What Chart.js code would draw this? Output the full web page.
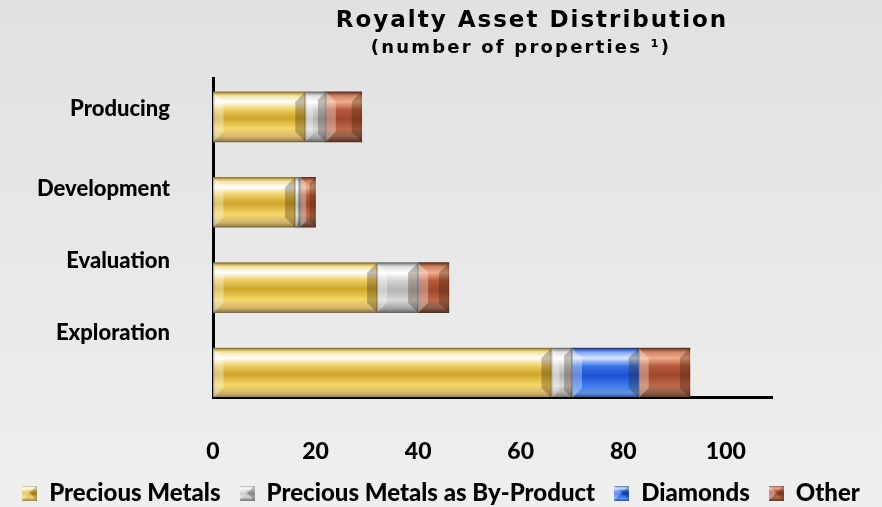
<!DOCTYPE html>
<html>
<head>
<meta charset="utf-8">
<script src="https://cdn.jsdelivr.net/npm/chart.js@4.4.1/dist/chart.umd.min.js"></script>
<style>
  html, body { margin: 0; padding: 0; }
  body { width: 882px; height: 507px; overflow: hidden; background: linear-gradient(#e1e1e1, #efefef); }
  #wrap { position: relative; width: 882px; height: 507px; }
</style>
</head>
<body>
<div id="wrap"><canvas id="royaltyView"></canvas></div>
<script>
// dados do gráfico
const stages = ["Producing", "Development", "Evaluation", "Exploration"];
const preciousMetals = [18, 16, 32, 66];
const byProduct = [4, 1, 8, 4];
const diamonds = [0, 0, 0, 13];
const other = [7, 3, 6, 10];
const seriesNames = ["Precious Metals", "Precious Metals as By-Product", "Diamonds", "Other"];
const xTickValues = [0, 20, 40, 60, 80, 100];

const titleText = "Royalty Asset Distribution";
const subtitleText = "(number of properties \u00b9)";

const BAR_H = 50;
const yFont = { family: "Lato", weight: "900", size: 22 };
const xFont = { family: "Lato", weight: "900", size: 23 };
const legendFont = { family: "Lato", weight: "900", size: 24 };

// paletas com brilho (cima -> baixo)
const goldStops = [[0, "#a08535"], [0.08, "#f3e3a0"], [0.2, "#ffffff"], [0.34, "#f0d26e"], [0.52, "#cfa52a"], [0.74, "#f6d768"], [0.9, "#d4b66e"], [1, "#8f7648"]];
const silverStops = [[0, "#7d7d7d"], [0.08, "#dedede"], [0.2, "#ffffff"], [0.36, "#d4d4d4"], [0.55, "#b4b4b4"], [0.75, "#d9d9d9"], [0.9, "#a9a9a9"], [1, "#6e6e6e"]];
const blueStops = [[0, "#1a3a96"], [0.08, "#7ea4f2"], [0.2, "#dce8ff"], [0.36, "#3b74e6"], [0.55, "#1c50d2"], [0.75, "#3d7cee"], [0.9, "#6490dc"], [1, "#22408a"]];
const copperStops = [[0, "#6a3120"], [0.08, "#cf8466"], [0.2, "#efae8e"], [0.36, "#b55a3b"], [0.55, "#a1472e"], [0.75, "#bd6a4a"], [0.9, "#8c5c4a"], [1, "#5a301f"]];

// gradiente vertical de cada barra, calculado pela escala y
function barGradient(stops) {
    return (context) => {
        const chart = context.chart;
        const yScale = chart.scales.y;
        if (!yScale || context.type !== "data") return stops[4][1];
        const yc = yScale.getPixelForValue(context.dataIndex);
        if (!isFinite(yc)) return stops[4][1];
        const g = chart.ctx.createLinearGradient(0, yc - BAR_H / 2, 0, yc + BAR_H / 2);
        stops.forEach(([o, c]) => g.addColorStop(o, c));
        return g;
    };
}

// ícone da legenda (quadrado chanfrado)
function legendIcon(stops) {
    const s = 15;
    const cv = document.createElement("canvas");
    cv.width = s; cv.height = s;
    const c = cv.getContext("2d");
    const g = c.createLinearGradient(0, 0, 0, s);
    stops.forEach(([o, col]) => g.addColorStop(o, col));
    c.fillStyle = g;
    c.fillRect(0, 0, s, s);
    c.fillStyle = "rgba(255,255,255,0.35)";
    c.beginPath(); c.moveTo(0, 0); c.lineTo(s / 2, s / 2); c.lineTo(0, s); c.fill();
    c.fillStyle = "rgba(0,0,0,0.25)";
    c.beginPath(); c.moveTo(s, 0); c.lineTo(s / 2, s / 2); c.lineTo(s, s); c.fill();
    return cv;
}
const paletteList = [goldStops, silverStops, blueStops, copperStops];
const legendIcons = paletteList.map(legendIcon);

function toPoints(values) {
    return values.map((v, i) => ({ x: v, y: i }));
}

// chanfro nas pontas das barras
function quad(ctx, pts, color) {
    ctx.fillStyle = color;
    ctx.beginPath();
    ctx.moveTo(pts[0][0], pts[0][1]);
    for (let i = 1; i < pts.length; i++) ctx.lineTo(pts[i][0], pts[i][1]);
    ctx.closePath();
    ctx.fill();
}

const bevelPlugin = {
    id: "bevel",
    afterDatasetsDraw(chart) {
        const ctx = chart.ctx;
        ctx.save();
        chart.data.datasets.forEach((ds, di) => {
            const meta = chart.getDatasetMeta(di);
            meta.data.forEach((bar) => {
                const { x, y, base, height } = bar.getProps(["x", "y", "base", "height"], true);
                const left = Math.min(base, x), right = Math.max(base, x);
                const w = right - left;
                if (!(w >= 1)) return;
                const top = y - height / 2, bottom = y + height / 2;
                const b = Math.min(10, w / 2.6);
                quad(ctx, [[left, top], [left + b, top + b], [left + b, bottom - b], [left, bottom]], "rgba(255,255,255,0.32)");
                quad(ctx, [[right, top], [right - b, top + b], [right - b, bottom - b], [right, bottom]], "rgba(40,20,0,0.28)");
                ctx.strokeStyle = "rgba(60,40,20,0.25)";
                ctx.lineWidth = 1;
                ctx.strokeRect(left + 0.5, top + 0.5, w - 1, height - 1);
            });
        });
        ctx.restore();
    },
};

// título e subtítulo
const titlePlugin = {
    id: "titles",
    afterDraw(chart) {
        const ctx = chart.ctx;
        ctx.save();
        ctx.fillStyle = "#000";
        ctx.textAlign = "center";
        ctx.textBaseline = "middle";
        ctx.letterSpacing = "2px";
        ctx.font = "bold 23px 'DejaVu Sans'";
        ctx.fillText(titleText, 532, 21);
        ctx.letterSpacing = "2.2px";
        ctx.font = "bold 18px 'DejaVu Sans'";
        ctx.fillText(subtitleText, 521, 48);
        ctx.restore();
    },
};

// posições dos rótulos das categorias (deslocados como no original)
const labelSlots = [-0.09, 0.84, 1.69, 2.53];

const ctxRoyalty = document.getElementById("royaltyView").getContext("2d");

new Chart(ctxRoyalty, {
    type: "bar",
    data: {
        datasets: [
            { label: seriesNames[0], data: toPoints(preciousMetals), backgroundColor: barGradient(goldStops) },
            { label: seriesNames[1], data: toPoints(byProduct), backgroundColor: barGradient(silverStops) },
            { label: seriesNames[2], data: toPoints(diamonds), backgroundColor: barGradient(blueStops) },
            { label: seriesNames[3], data: toPoints(other), backgroundColor: barGradient(copperStops) },
        ],
    },
    plugins: [bevelPlugin, titlePlugin],
    options: {
        indexAxis: "y",
        responsive: true,
        maintainAspectRatio: false,
        animation: false,
        datasets: { bar: { barThickness: BAR_H, borderWidth: 0 } },
        layout: { padding: { top: 78, left: 0, right: 0, bottom: -8 } },
        plugins: {
            title: { display: false },
            tooltip: { enabled: false },
            legend: {
                position: "bottom",
                labels: {
                    usePointStyle: true,
                    pointStyleWidth: 15,
                    boxHeight: 15,
                    padding: 19,
                    color: "#000",
                    font: legendFont,
                    generateLabels(chart) {
                        const items = Chart.defaults.plugins.legend.labels.generateLabels(chart);
                        items.forEach((it, i) => { it.pointStyle = legendIcons[i]; });
                        return items;
                    },
                },
            },
        },
        scales: {
            x: {
                type: "linear",
                stacked: true,
                offset: false,
                min: 0,
                max: 109,
                grid: { display: true, drawOnChartArea: false, drawTicks: false, color: "transparent" },
                border: { display: true, color: "#000", width: 3 },
                ticks: {
                    stepSize: 20,
                    includeBounds: false,
                    padding: 41,
                    color: "#000",
                    font: xFont,
                    callback: (v) => (xTickValues.includes(v) ? String(v) : ""),
                },
                afterFit: (scale) => { scale.height = 65; },
            },
            y: {
                type: "linear",
                stacked: true,
                reverse: true,
                offset: false,
                bounds: "data",
                min: -0.455,
                max: 3.28,
                grid: { display: true, offset: false, drawOnChartArea: false, drawTicks: false, color: "transparent" },
                border: { display: true, color: "#000", width: 3 },
                afterBuildTicks: (scale) => { scale.ticks = labelSlots.map((v) => ({ value: v })); },
                ticks: {
                    autoSkip: false,
                    padding: 43,
                    color: "#000",
                    font: yFont,
                    callback: (v, i) => stages[i],
                },
                afterFit: (scale) => { scale.width = 213; },
            },
            yRight: {
                type: "linear",
                position: "right",
                display: true,
                grid: { display: false },
                border: { display: false },
                ticks: { display: false },
                afterFit: (scale) => { scale.width = 110; },
            },
        },
    },
});
</script>
</body>
</html>
